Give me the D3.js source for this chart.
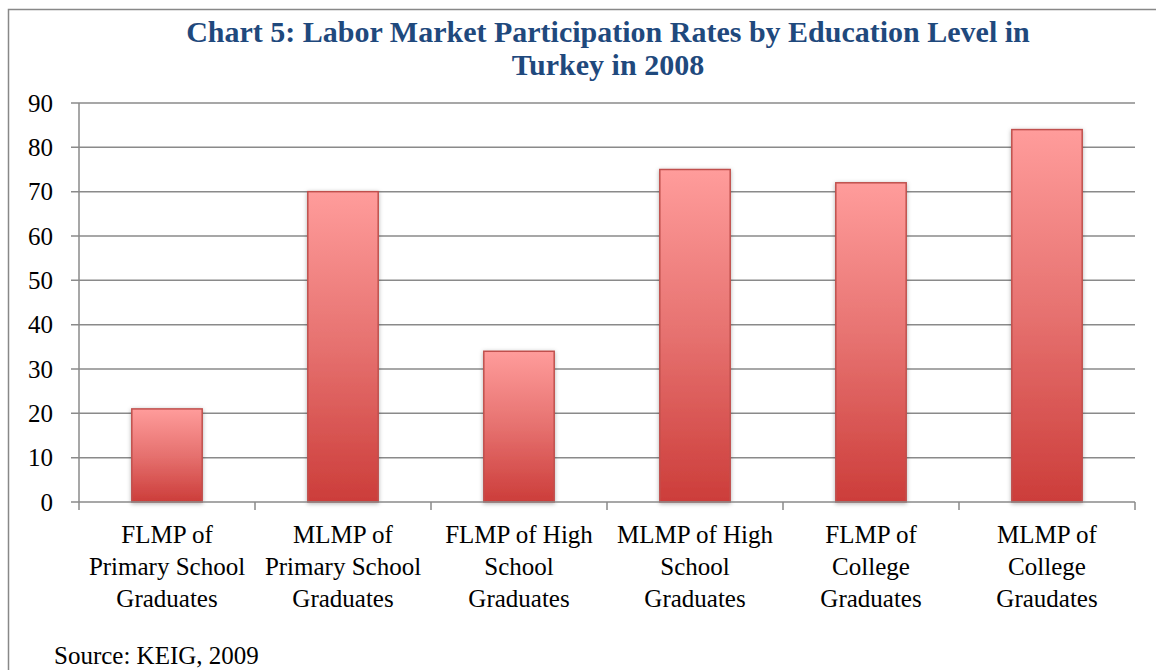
<!DOCTYPE html>
<html>
<head>
<meta charset="utf-8">
<script src="https://cdn.jsdelivr.net/npm/d3@7"></script>
<style>
  html, body { margin: 0; padding: 0; background: #fff; }
  svg { display: block; font-family: 'Liberation Serif', 'DejaVu Serif', serif; }
</style>
</head>
<body>
<svg id="chart"></svg>
<script>
(function () {
  // Data
  var categories = [
    'FLMP of Primary School Graduates',
    'MLMP of Primary School Graduates',
    'FLMP of High School Graduates',
    'MLMP of High School Graduates',
    'FLMP of College Graduates',
    'MLMP of College Graudates'
  ]
  var labelLines = [
    ['FLMP of', 'Primary School', 'Graduates'],
    ['MLMP of', 'Primary School', 'Graduates'],
    ['FLMP of High', 'School', 'Graduates'],
    ['MLMP of High', 'School', 'Graduates'],
    ['FLMP of', 'College', 'Graduates'],
    ['MLMP of', 'College', 'Graudates']
  ]
  var values = [21, 70, 34, 75, 72, 84]
  var yTicks = [0, 10, 20, 30, 40, 50, 60, 70, 80, 90]
  var titleLines = ['Chart 5: Labor Market Participation Rates by Education Level in', 'Turkey in 2008']
  var sourceText = 'Source: KEIG, 2009'

  var WIDTH = 1156
  var HEIGHT = 670
  var margin = { left: 79, top: 103, bottom: 168 }
  var plotRight = 1135

  var svg = d3.select('#chart')
    .attr('width', WIDTH)
    .attr('height', HEIGHT)

  var defs = svg.append('defs')
  var grad = defs.append('linearGradient')
    .attr('id', 'barGrad')
    .attr('x1', 0).attr('y1', 0).attr('x2', 0).attr('y2', 1)
  grad.append('stop').attr('offset', '0%').attr('stop-color', '#ff9c9b')
  grad.append('stop').attr('offset', '50%').attr('stop-color', '#e6716f')
  grad.append('stop').attr('offset', '100%').attr('stop-color', '#cc3d3a')

  var shadow = defs.append('filter')
    .attr('id', 'shadow')
    .attr('x', '-20%').attr('y', '-20%').attr('width', '140%').attr('height', '140%')
  shadow.append('feDropShadow')
    .attr('dx', 0).attr('dy', 1)
    .attr('stdDeviation', 2)
    .attr('flood-color', '#000')
    .attr('flood-opacity', 0.3)

  // outer frame (only top/left visible)
  svg.append('rect')
    .attr('x', 8.5).attr('y', 9.5)
    .attr('width', WIDTH + 20).attr('height', HEIGHT + 20)
    .attr('fill', 'none')
    .attr('stroke', '#888')
    .attr('stroke-width', 1.5)

  var x = d3.scaleBand()
    .domain(categories)
    .range([margin.left, plotRight])
    .paddingInner(0.6)
    .paddingOuter(0.3)

  var xTick = d3.scaleBand()
    .domain(categories)
    .range([margin.left, plotRight])

  var y = d3.scaleLinear()
    .domain([0, 90])
    .range([HEIGHT - margin.bottom, margin.top])

  // gridlines
  svg.append('g')
    .selectAll('line')
    .data(yTicks.filter(function (d) { return d > 0 }))
    .enter().append('line')
    .attr('x1', margin.left - 8).attr('x2', plotRight)
    .attr('y1', function (d) { return y(d) }).attr('y2', function (d) { return y(d) })
    .attr('stroke', '#8a8a8a')
    .attr('stroke-width', 1.5)

  // y labels
  svg.append('g')
    .selectAll('text')
    .data(yTicks)
    .enter().append('text')
    .attr('x', 53)
    .attr('y', function (d) { return y(d) + 8.5 })
    .attr('text-anchor', 'end')
    .attr('font-size', 25)
    .attr('fill', '#000')
    .text(function (d) { return d })

  // bars
  svg.append('g')
    .selectAll('rect')
    .data(values)
    .enter().append('rect')
    .attr('x', function (d, i) { return x(categories[i]) })
    .attr('y', function (d) { return y(d) })
    .attr('width', x.bandwidth())
    .attr('height', function (d) { return y(0) - y(d) })
    .attr('fill', 'url(#barGrad)')
    .attr('stroke', '#c0504d')
    .attr('stroke-width', 1.5)
    .attr('filter', 'url(#shadow)')

  // axes lines
  svg.append('line')
    .attr('x1', margin.left).attr('x2', margin.left)
    .attr('y1', margin.top).attr('y2', y(0) + 8)
    .attr('stroke', '#8a8a8a').attr('stroke-width', 1.5)
  svg.append('line')
    .attr('x1', margin.left - 8).attr('x2', plotRight)
    .attr('y1', y(0)).attr('y2', y(0))
    .attr('stroke', '#8a8a8a').attr('stroke-width', 1.5)

  // category ticks
  var tickXs = categories.map(function (c) { return xTick(c) + xTick.bandwidth() })
  svg.append('g')
    .selectAll('line')
    .data(tickXs)
    .enter().append('line')
    .attr('x1', function (d) { return d }).attr('x2', function (d) { return d })
    .attr('y1', y(0)).attr('y2', y(0) + 8)
    .attr('stroke', '#8a8a8a').attr('stroke-width', 1.5)

  // category labels
  var labels = svg.append('g')
    .selectAll('text')
    .data(categories)
    .enter().append('text')
    .attr('text-anchor', 'middle')
    .attr('font-size', 25)
    .attr('fill', '#000')
  labels.each(function (c, i) {
    var cx = xTick(c) + xTick.bandwidth() / 2
    d3.select(this).selectAll('tspan')
      .data(labelLines[i])
      .enter().append('tspan')
      .attr('x', cx)
      .attr('y', function (d, j) { return 543 + j * 32 })
      .text(function (d) { return d })
  })

  // title
  svg.append('g')
    .selectAll('text')
    .data(titleLines)
    .enter().append('text')
    .attr('x', 608)
    .attr('y', function (d, i) { return 42 + i * 33 })
    .attr('text-anchor', 'middle')
    .attr('font-size', 30)
    .attr('font-weight', 'bold')
    .attr('fill', '#1f497d')
    .text(function (d) { return d })

  // source
  svg.append('text')
    .attr('x', 54)
    .attr('y', 664)
    .attr('font-size', 25)
    .attr('fill', '#000')
    .text(sourceText)
})()
</script>
</body>
</html>
